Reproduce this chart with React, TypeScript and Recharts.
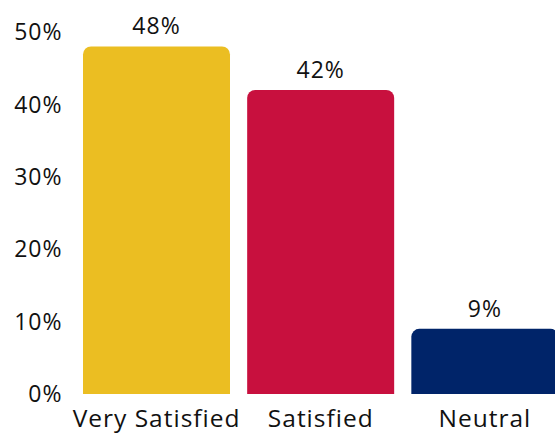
import { BarChart, Bar, XAxis, YAxis, Cell, LabelList } from "recharts";

const categories = ["Very Satisfied", "Satisfied", "Neutral"];
const shares = [48, 42, 9];
const barColors = ["#EBBE22", "#C8103E", "#002469"];
const yTicks = [0, 10, 20, 30, 40, 50];

const data = categories.map((name, i) => ({ name, value: shares[i] }));

const font = "'Open Sans', Lato, sans-serif";

export default function App() {
  return (
    <div style={{ position: "absolute", left: 0, top: 0, width: 555, height: 433, overflow: "hidden", background: "#fff" }}>
      <BarChart
        width={567}
        height={433}
        data={data}
        margin={{ top: 32, right: 0, bottom: 0, left: 0 }}
        barCategoryGap={8.5}
      >
        <XAxis
          dataKey="name"
          axisLine={false}
          tickLine={false}
          interval={0}
          height={39}
          tickMargin={10}
          tick={{ fontSize: 24.5, fill: "#111", fontFamily: font, letterSpacing: 1 }}
        />
        <YAxis
          domain={[0, 50]}
          ticks={yTicks}
          width={74.5}
          axisLine={false}
          tickLine={false}
          tickMargin={6}
          tickFormatter={(v: number) => `${v}%`}
          tick={{ fontSize: 23, fill: "#111", fontFamily: font, letterSpacing: 1 }}
        />
        <Bar dataKey="value" radius={[8, 8, 0, 0]} isAnimationActive={false}>
          {data.map((d, i) => (
            <Cell key={d.name} fill={barColors[i]} />
          ))}
          <LabelList
            dataKey="value"
            position="top"
            offset={12}
            formatter={(v: number) => `${v}%`}
            style={{ fontSize: 23, fill: "#111", fontFamily: font, letterSpacing: 1 }}
          />
        </Bar>
      </BarChart>
    </div>
  );
}
